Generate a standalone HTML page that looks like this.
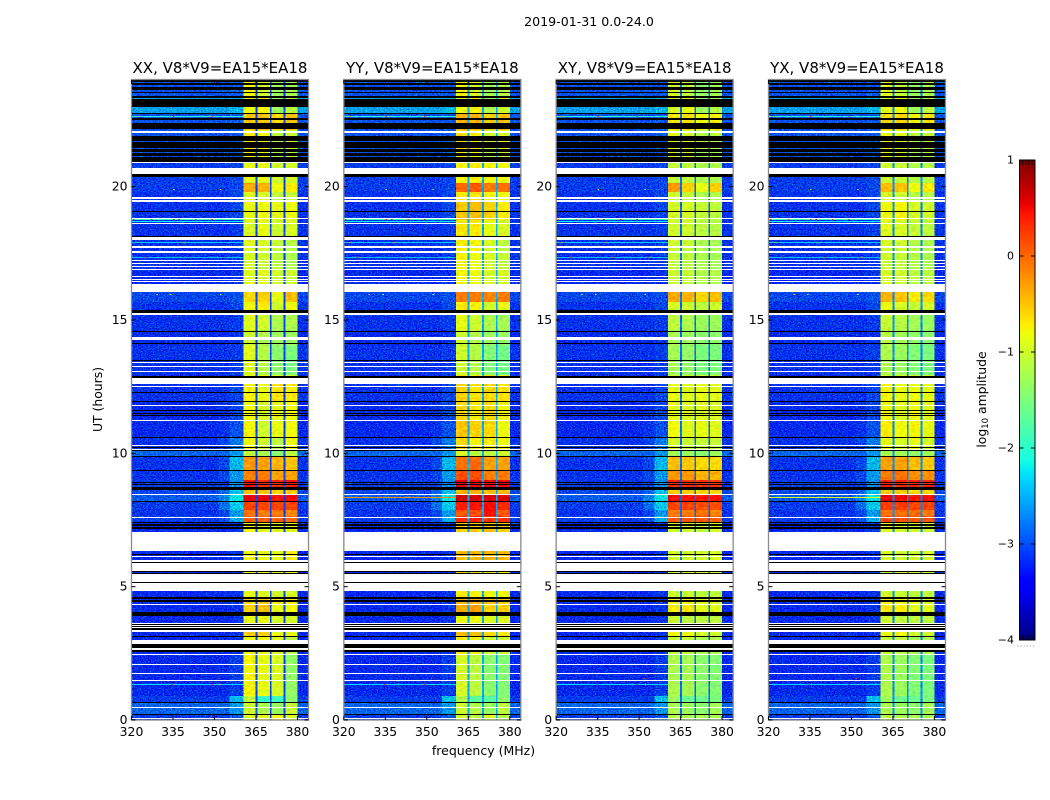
<!DOCTYPE html>
<html lang="en">
<head>
<meta charset="utf-8">
<title>2019-01-31 0.0-24.0 dynamic spectra</title>
<style>
  html, body { margin: 0; padding: 0; background: #fff; }
  body { width: 1050px; height: 800px; overflow: hidden; }
  svg { display: block; }
  text { font-family: "DejaVu Sans", "Liberation Sans", sans-serif; fill: #000; }
  .crisp { shape-rendering: crispEdges; }
</style>
</head>
<body>
<svg id="figure" xmlns="http://www.w3.org/2000/svg" width="1050" height="800" viewBox="0 0 1050 800">
  <defs>
    <filter id="speckle" filterUnits="objectBoundingBox" x="0" y="0" width="1" height="1" color-interpolation-filters="sRGB">
      <feTurbulence type="fractalNoise" baseFrequency="0.62 0.85" numOctaves="2" seed="4" result="n"/>
      <feColorMatrix in="n" type="matrix" values="0 0 0 0 0.5  1 0 0 0 0  0 1 0 0 0  0 0 0 0 1" result="g"/>
      <feComposite in="SourceGraphic" in2="g" operator="arithmetic" k1="0" k2="1" k3="1.2" k4="-0.63"/>
    </filter>
    <filter id="soft-speckle" filterUnits="objectBoundingBox" x="0" y="0" width="1" height="1" color-interpolation-filters="sRGB">
      <feTurbulence type="fractalNoise" baseFrequency="0.25 0.4" numOctaves="2" seed="9" result="n"/>
      <feColorMatrix in="n" type="matrix" values="1 0 0 0 0  0 1 0 0 0  0 0 0 0 0.5  0 0 0 0 1" result="g"/>
      <feComposite in="SourceGraphic" in2="g" operator="arithmetic" k1="0" k2="1" k3="0.35" k4="-0.175"/>
    </filter>
  </defs>
  <text x="589" y="26" font-size="12.6" text-anchor="middle">2019-01-31 0.0-24.0</text>
  <text x="483.500" y="755" font-size="12.5" text-anchor="middle">frequency (MHz)</text>
  <text x="0" y="0" font-size="12.4" text-anchor="middle" transform="translate(102 399.500) rotate(-90)">UT (hours)</text>
  <text x="0" y="0" font-size="12.4" text-anchor="middle" transform="translate(986 399.500) rotate(-90)">log<tspan font-size="8.500" dy="2">10</tspan><tspan dy="-2"> amplitude</tspan></text>
  <g id="panels"></g>
  <g id="colorbar"></g>
</svg>
<script>
// ---- Chart data ----
const polarizations = ['XX', 'YY', 'XY', 'YX'];
const panelTitleSuffix = ', V8*V9=EA15*EA18';
const xTickLabels = [320, 335, 350, 365, 380];
const yTickLabels = [0, 5, 10, 15, 20];
const colorbarTicks = [1, 0, -1, -2, -3, -4];

// Observing band edges in MHz: four sub-band patches, then the gaps between them.
const patchStartMHz = [360.5, 365.5, 370.6, 375.6];
const patchEndMHz = [364.8, 370.0, 375.0, 380.0];
const shoulderStartMHz = [351.5, 355.5];

// Time sample index at which each region begins (1 sample = 2.25 min).
const regionStart = [0, 6, 18, 24, 66, 84, 90, 104, 116, 122, 129, 158, 170, 188, 198, 204, 210, 218, 226, 233, 240, 250, 263, 270, 283, 300, 318, 336, 345, 375, 390, 407, 418, 428, 450, 470, 484, 500, 520, 528, 537, 558, 570, 590, 607, 622];

// log10 amplitude of the off-band background, per region.
const backgroundLevel = [-3.05, -2.85, -3.05, -3.15, -3.15, -3.15, -3.15, -3.15, -3.15, -3.15, -3.15, -3.15, -3.15, -3.15, -3.05, -3.1, -3.05, -2.9, -3.0, -3.05, -3.1, -3.1, -2.85, -3.1, -3.15, -3.15, -3.1, -3.15, -3.1, -3.15, -3.1, -3.1, -3.0, -3.15, -3.1, -3.1, -3.1, -3.1, -3.1, -3.05, -3.05, -2.95, -2.95, -2.95, -2.55, -2.95];
// log10 amplitude just below the band edge (outer, inner shoulder), per region.
const shoulderOuter = [-3.05, -2.85, -3.05, -3.15, -3.15, -3.15, -3.15, -3.15, -3.15, -3.15, -3.15, -3.15, -3.15, -3.15, -2.95, -3.0, -2.8, -2.7, -2.85, -3.0, -3.0, -3.0, -2.85, -3.0, -3.1, -3.1, -3.1, -3.15, -3.1, -3.15, -3.1, -3.1, -3.0, -3.15, -3.1, -3.1, -3.1, -3.1, -3.1, -3.05, -3.05, -2.95, -2.95, -2.95, -2.55, -2.95];
const shoulderInner = [-2.9, -2.6, -2.4, -3.05, -3.1, -3.1, -3.1, -3.1, -3.1, -3.1, -3.1, -3.1, -3.1, -3.1, -2.5, -2.6, -2.35, -2.2, -2.4, -2.65, -2.6, -2.45, -2.6, -2.75, -2.95, -3.0, -3.0, -3.1, -3.05, -3.1, -3.05, -3.0, -2.95, -3.1, -3.05, -3.05, -3.05, -3.0, -3.0, -3.0, -3.0, -2.9, -2.9, -2.9, -2.45, -2.9];

// log10 amplitude of patches 1-4, per region, one table per polarization.
const levelsXX = [[-.9,-.85,-.8,-.9],[-1,-1.2,-1.3,-1.05],[-1.1,-1.95,-1.9,-1.4],[-.75,-.85,-.95,-1.35],[-.8,-.8,-.9,-1.1],[-.55,-.55,-.8,-.85],[-.85,-.85,-.95,-.95],[-.55,-.45,-.85,-.8],[-.6,-.55,-.7,-.7],[-.85,-.9,-1,-.95],[-.85,-.85,-.9,-.85],[-.75,-.85,-.85,-.75],[-.85,-.85,-.85,-.85],[-.8,-.9,-.9,-.85],[.05,.05,.05,0],[-.05,-.1,-.1,-.15],[.2,.2,.2,.2],[.55,.55,.45,.5],[-.5,-.5,-.55,-.55],[.45,.3,.3,.4],[-.15,-.1,-.3,-.3],[-.25,-.3,-.4,-.5],[-1.1,-1.2,-1.4,-1.1],[-.8,-1,-1.1,-.8],[-.75,-1,-.85,-.8],[-.8,-.95,-.85,-.8],[-.75,-.85,-.65,-.7],[-.9,-.9,-.9,-.9],[-.9,-1.15,-1.4,-1.5],[-1,-1.2,-1.3,-1.3],[-.9,-1,-1.2,-1.2],[-.8,-.7,-1,-.8],[-.6,-.55,-.85,-.45],[-.9,-.9,-1,-1],[-.95,-1,-1.1,-1.2],[-.9,-.95,-1.05,-1.15],[-.95,-.85,-1,-.95],[-.85,-.8,-.85,-.8],[-.9,-.95,-1.1,-1.05],[-.35,-.4,-.8,-.7],[-.85,-.85,-1,-.95],[-.8,-.9,-1.2,-1.1],[-.7,-.8,-1.1,-1],[-.5,-.5,-.6,-.5],[-.85,-.75,-1.3,-1.1],[-.8,-1,-1.3,-1.2]];
const levelsYY = [[-1,-1.1,-.9,-1.1],[-1,-1.15,-1.3,-1.1],[-1.2,-1.7,-1.7,-1.4],[-.95,-1.1,-1.4,-1.45],[-.7,-.8,-1,-1],[-.45,-.45,-.6,-.7],[-.8,-.8,-.9,-.9],[-.35,-.3,-.55,-.55],[-.4,-.4,-.45,-.5],[-.7,-.75,-.8,-.8],[-.6,-.6,-.65,-.7],[-.45,-.4,-.4,-.45],[-.6,-.6,-.6,-.6],[-.55,-.55,-.5,-.55],[.35,.4,.3,.3],[.1,.15,.45,.1],[.4,.45,.5,.35],[.65,.65,.6,.6],[-.4,-.4,-.45,-.45],[.55,.5,.5,.5],[.15,.15,-.1,-.1],[-.05,0,-.3,-.3],[-.95,-1.1,-1.1,-1],[-.6,-.75,-.7,-.8],[-.5,-.55,-.6,-.8],[-.6,-.7,-.6,-.8],[-.55,-.65,-.6,-.65],[-.7,-.7,-.7,-.7],[-1,-1.15,-1.45,-1.55],[-1,-1.15,-1.3,-1.35],[-.85,-1,-1.2,-1.25],[-.7,-.75,-1,-.85],[-.1,-.1,-.15,-.1],[-.75,-.8,-.95,-.95],[-.75,-.8,-.95,-1.05],[-.7,-.75,-.95,-1.1],[-.65,-.7,-.85,-.95],[-.5,-.45,-.55,-.7],[-.7,-.65,-.75,-.8],[0,.1,-.1,-.05],[-.75,-.7,-.75,-.8],[-.7,-.8,-1.1,-1.05],[-.6,-.7,-1,-.95],[-.4,-.4,-.55,-.45],[-.8,-.7,-1.2,-1],[-.75,-.95,-1.25,-1.15]];
const levelsXY = [[-1.15,-1.2,-1.2,-1.2],[-1.2,-1.3,-1.4,-1.25],[-1.3,-1.6,-1.6,-1.5],[-1.2,-1.25,-1.4,-1.45],[-1.05,-1.05,-1.2,-1.2],[-.8,-.8,-1,-1],[-1,-1.1,-1.1,-1.1],[-.7,-.65,-.9,-.9],[-.75,-.75,-.9,-.9],[-1,-1.05,-1.1,-1.1],[-1,-1,-1,-1],[-.95,-1,-1,-.95],[-1,-1,-1,-1],[-.95,-1,-1.05,-1],[.1,.1,.1,.05],[-.1,-.1,-.05,-.15],[.2,.2,.15,.15],[.5,.45,.45,.45],[-.55,-.55,-.6,-.6],[.35,.3,.3,.3],[-.25,-.25,-.4,-.4],[-.45,-.5,-.6,-.6],[-1.25,-1.3,-1.4,-1.3],[-.95,-1.05,-1.05,-1.05],[-.8,-.9,-.85,-.9],[-.85,-.95,-.9,-.95],[-.85,-.9,-.85,-.9],[-1,-1,-1,-1],[-1.25,-1.35,-1.5,-1.5],[-1.2,-1.3,-1.4,-1.4],[-1.1,-1.2,-1.3,-1.3],[-.95,-1,-1.1,-1],[-.35,-.4,-.6,-.45],[-1,-1.05,-1.15,-1.15],[-1.05,-1.1,-1.2,-1.25],[-1,-1.05,-1.2,-1.25],[-1,-1,-1.1,-1.15],[-.95,-.95,-1.05,-1.1],[-1,-1.05,-1.2,-1.2],[-.25,-.55,-.85,-.55],[-1.05,-1.1,-1.2,-1.2],[-.95,-1,-1.25,-1.2],[-.85,-.95,-1.15,-1.1],[-.65,-.65,-.8,-.7],[-.95,-.85,-1.3,-1.15],[-.95,-1.1,-1.35,-1.25]];
const levelsYX = [[-1.15,-1.2,-1.2,-1.2],[-1.2,-1.3,-1.4,-1.25],[-1.3,-1.6,-1.6,-1.5],[-1.2,-1.3,-1.45,-1.5],[-1.05,-1.1,-1.2,-1.2],[-.8,-.8,-1,-1],[-1,-1.1,-1.1,-1.1],[-.7,-.7,-.9,-.9],[-.75,-.8,-.9,-.9],[-1,-1.05,-1.1,-1.1],[-1,-1,-1,-1],[-.95,-1,-1,-.95],[-1,-1,-1,-1],[-.9,-.95,-1,-1],[.15,.15,.1,.1],[-.05,-.05,0,-.1],[.25,.25,.2,.2],[.55,.5,.45,.5],[-.55,-.55,-.6,-.6],[.4,.35,.35,.35],[-.1,-.05,-.2,-.2],[-.3,-.3,-.45,-.5],[-1.2,-1.25,-1.35,-1.25],[-.85,-.95,-.85,-.95],[-.7,-.8,-.75,-.85],[-.8,-.9,-.8,-.9],[-.75,-.85,-.8,-.85],[-.95,-.95,-.95,-.95],[-1.2,-1.3,-1.45,-1.5],[-1.15,-1.25,-1.35,-1.4],[-1.05,-1.15,-1.25,-1.3],[-.85,-.95,-1.05,-.95],[-.4,-.5,-.7,-.6],[-.95,-1,-1.1,-1.1],[-1,-1.05,-1.15,-1.2],[-.95,-1,-1.15,-1.2],[-.9,-.95,-1.05,-1.1],[-.8,-.75,-.95,-1],[-.95,-1,-1.15,-1.15],[-.45,-.5,-.8,-.7],[-1,-1.05,-1.15,-1.15],[-.9,-.95,-1.2,-1.15],[-.8,-.9,-1.1,-1.05],[-.6,-.6,-.75,-.65],[-.9,-.8,-1.25,-1.1],[-.9,-1.05,-1.3,-1.2]];
const polarizationLevels = [levelsXX, levelsYY, levelsXY, levelsYX];
// Level in the narrow gaps between patches, by polarization.
const gapLevel = [-3.05, -2.55, -2.85, -2.7];

// Flagged (no data, white) sample ranges.
const flaggedStart = [1, 12, 39, 46, 55, 65, 70.5, 76, 88.5, 92, 94.3, 96.5, 115, 128.7, 138, 149, 158.3, 162.7, 169, 202, 225.3, 270.7, 273.7, 299.5, 314.2, 333.5, 336, 348, 353, 357.2, 380, 405.3, 428.3, 438.5, 440.5, 443, 450.5, 453.5, 456.3, 459, 467.3, 472.3, 480, 496.5, 501, 518, 521, 546, 557, 587.3];
const flaggedEnd = [2.5, 13.5, 40.5, 47, 56, 66, 72.5, 80.5, 90, 93.3, 95.6, 97.3, 116, 136.7, 146, 157.3, 160, 163.7, 188.3, 203, 226.5, 271.5, 275, 300.5, 315.2, 334.5, 341.7, 349, 354, 358.2, 382.7, 406.7, 436, 439.2, 441.3, 443.7, 451.3, 454.3, 457, 459.7, 468.7, 474.3, 483.3, 497.5, 501.8, 520, 523, 551.7, 558, 589];

// Dropped (zero amplitude, black) sample ranges.
const blackStart = [5.5, 17.2, 68, 72.5, 82.7, 90, 93.5, 95.8, 104, 117.7, 121.5, 136.7, 146, 148, 157.3, 165, 191, 194.3, 197.5, 218, 230, 235, 236.7, 249.5, 262.7, 269.3, 272.7, 282.2, 304.5, 306.8, 309, 318.3, 327.3, 342.3, 359.7, 376.3, 388.3, 406.7, 483.5, 508, 543.3, 558.3, 564, 568, 572.2, 579.5, 591, 600, 606.7, 612.7, 622.2, 626.7, 630, 635, 638.3];
const blackEnd = [6.5, 18, 70.5, 76, 84, 91.7, 94, 96.3, 108, 120, 123, 138, 147.5, 149, 158.3, 166, 193.3, 195.7, 198, 219, 233.3, 236, 237.7, 250.5, 264, 270.5, 273.5, 283, 305.3, 307.5, 309.7, 319, 328, 344.3, 360.4, 377, 389, 410, 484.3, 508.6, 546, 562.7, 567, 571, 578.5, 584, 597.3, 602, 607.3, 621, 624, 628.5, 633.3, 637, 640];

// Narrow-band interference rows: sample, log10 amplitude between 320 and 360 MHz.
const rfiRowSample = [35.5, 472, 477, 500, 498.5, 572.5, 603, 462, 225];
const rfiRowLevel = [-2.3, -2.05, -2.4, -1.9, -2.2, -1.95, -2.0, -2.45, -2.5];
// Streaks present in a single polarization: panel index, sample, log10 amplitude.
const streakPanel = [1, 3];
const streakSample = [222, 222];
const streakLevel = [-.2, -.9];
// Isolated hot channels: sample, frequency in MHz, log10 amplitude.
const speckSample = [35.5, 35.5, 35.5, 41, 472, 472, 472, 472, 472, 472, 477, 477, 500, 500, 500, 500, 500, 500, 572.5, 572.5, 572.5, 603, 603, 603, 425, 425, 425, 530, 530, 462, 462, 462];
const speckMHz = [334.5, 349, 352, 351.5, 324, 331, 334, 336, 345, 352, 322, 338, 320.5, 327, 335, 337, 343, 349, 326, 334, 347, 322, 335, 349, 329, 334, 352, 335, 352, 325, 340, 353];
const speckLevel = [.3, .3, -.4, .2, .1, .3, .6, .4, .3, .2, -.3, -.2, .2, .3, .4, .5, .2, .4, .2, .35, .3, -.2, .3, .2, -.6, -.8, -.9, -.5, -.4, .2, .1, .2];

// ---- Axis limits ----
const freqMin = 320, freqMax = 384, hourMin = 0, hourMax = 24, levelMin = -4, levelMax = 1;
const samplesPerHour = 640 / 24;
const plotTop = 80, plotBottom = 720, plotWidth = 177;
const cbarLeft = 1019.5, cbarRight = 1035, cbarTop = 160, cbarBottom = 640;

// ---- Helpers ----
const SVGNS = 'http://www.w3.org/2000/svg';
function panelLeft(i) { return 131.5 + i * 212.33; }
function xScale(i, mhz) { return panelLeft(i) + (mhz - freqMin) / (freqMax - freqMin) * plotWidth; }
function yScale(hour) { return plotBottom - (hour - hourMin) / (hourMax - hourMin) * (plotBottom - plotTop); }
function sampleY(s) { return yScale(s / samplesPerHour); }
function cbarY(level) { return cbarBottom - (level - levelMin) / (levelMax - levelMin) * (cbarBottom - cbarTop); }
function ramp(x, pts) {
  for (let k = 1; k < pts.length; k++) {
    if (x <= pts[k][0]) {
      return pts[k - 1][1] + (x - pts[k - 1][0]) / (pts[k][0] - pts[k - 1][0]) * (pts[k][1] - pts[k - 1][1]);
    }
  }
  return pts[pts.length - 1][1];
}
function jet(level) {
  const t = Math.max(0, Math.min(1, (level - levelMin) / (levelMax - levelMin)));
  const r = ramp(t, [[0, 0], [.35, 0], [.66, 1], [.89, 1], [1, .5]]);
  const g = ramp(t, [[0, 0], [.125, 0], [.375, 1], [.64, 1], [.91, 0], [1, 0]]);
  const b = ramp(t, [[0, .5], [.11, 1], [.34, 1], [.65, 0], [1, 0]]);
  return 'rgb(' + Math.round(r * 255) + ',' + Math.round(g * 255) + ',' + Math.round(b * 255) + ')';
}
function make(tag, props, parent) {
  const el = document.createElementNS(SVGNS, tag);
  for (const k in props) { el.setAttribute(k, props[k]); }
  parent.appendChild(el);
  return el;
}
function cell(parent, x0, x1, y0, y1, fill) {
  const top = Math.round(Math.min(y0, y1));
  const height = Math.max(1, Math.round(Math.max(y0, y1)) - top);
  const el = make('rect', { x: x0, y: top, width: Math.max(0, x1 - x0), height: height, fill: fill }, parent);
  
  
  return el;
}
function tickLine(parent, x1, y1, x2, y2) {
  const el = make('line', { x1: x1, y1: y1, x2: x2, y2: y2, stroke: '#000', 'stroke-width': 1 }, parent);
  
  
  return el;
}

// ---- Panels ----
const panelsRoot = document.getElementById('panels');
polarizations.forEach(function (pol, i) {
  const panel = make('g', {}, panelsRoot);
  
  

  const left = xScale(i, freqMin), right = xScale(i, freqMax);

  const title = make('text', { x: (left + right) / 2, y: 73, 'font-size': 15, 'text-anchor': 'middle' }, panel);
  
  
  title.textContent = pol + panelTitleSuffix;

  const bgGroup = make('g', { filter: 'url(#speckle)', class: 'crisp' }, panel);
  const bandGroup = make('g', { filter: 'url(#soft-speckle)', class: 'crisp' }, panel);
  const maskGroup = make('g', { class: 'crisp' }, panel);

  regionStart.forEach(function (start, r) {
    const end = r + 1 < regionStart.length ? regionStart[r + 1] : 640;
    const y0 = sampleY(start), y1 = sampleY(end);
    // Off-band background and shoulder below the band edge.
    cell(bgGroup, left, xScale(i, shoulderStartMHz[0]), y0, y1, jet(backgroundLevel[r]));
    cell(bgGroup, xScale(i, shoulderStartMHz[0]), xScale(i, shoulderStartMHz[1]), y0, y1, jet(shoulderOuter[r]));
    cell(bgGroup, xScale(i, shoulderStartMHz[1]), xScale(i, patchStartMHz[0]), y0, y1, jet(shoulderInner[r]));
    cell(bgGroup, xScale(i, patchEndMHz[3]), right, y0, y1, jet(backgroundLevel[r]));
    // Sub-band patches and the gaps between them.
    patchStartMHz.forEach(function (mhz, p) {
      cell(bandGroup, xScale(i, mhz), xScale(i, patchEndMHz[p]), y0, y1, jet(polarizationLevels[i][r][p]));
      if (p < 3) {
        cell(bandGroup, xScale(i, patchEndMHz[p]), xScale(i, patchStartMHz[p + 1]), y0, y1, jet(gapLevel[i]));
      }
    });
  });

  rfiRowSample.forEach(function (s, r) {
    cell(maskGroup, left, xScale(i, patchStartMHz[0]), sampleY(s), sampleY(s + 1), jet(rfiRowLevel[r]));
  });
  streakSample.forEach(function (s, k) {
    if (streakPanel[k] === i) {
      cell(maskGroup, left, xScale(i, patchStartMHz[0]), sampleY(s), sampleY(s + 1), jet(streakLevel[k]));
    }
  });
  speckSample.forEach(function (s, k) {
    cell(maskGroup, xScale(i, speckMHz[k]), xScale(i, speckMHz[k] + .55), sampleY(s), sampleY(s + 1), jet(speckLevel[k]));
  });
  flaggedStart.forEach(function (s, k) {
    cell(maskGroup, left, right, sampleY(s), sampleY(flaggedEnd[k]), '#fff');
  });
  blackStart.forEach(function (s, k) {
    cell(maskGroup, left, right, sampleY(s), sampleY(blackEnd[k]), '#000');
  });

  // Frame
  const frame = make('rect', { x: left, y: plotTop - .5, width: right - left, height: plotBottom - plotTop + .5, fill: 'none', stroke: '#8a8a8a', 'stroke-width': 1.3 }, panel);
  
  

  // X ticks and labels
  xTickLabels.forEach(function (v) {
    const x = xScale(i, v);
    tickLine(panel, x, plotBottom, x, plotBottom - 4);
    tickLine(panel, x, plotTop, x, plotTop + 4);
    const t = make('text', { x: x, y: 736, 'font-size': 12.4, 'text-anchor': 'middle' }, panel);
    
    
    t.textContent = v;
  });
  // Y ticks and labels
  yTickLabels.forEach(function (v) {
    const y = yScale(v);
    tickLine(panel, left, y, left + 4, y);
    tickLine(panel, right, y, right - 4, y);
    const t = make('text', { x: left - 4, y: y + 4, 'font-size': 12.4, 'text-anchor': 'end' }, panel);
    
    
    t.textContent = v;
  });
});

// ---- Colorbar ----
const cbarRoot = document.getElementById('colorbar');
const cbarCells = make('g', { class: 'crisp' }, cbarRoot);
for (let k = 0; k < 240; k++) {
  const lo = levelMin + k / 240 * (levelMax - levelMin);
  const hi = levelMin + (k + 1) / 240 * (levelMax - levelMin);
  const swatch = make('rect', { x: cbarLeft, y: cbarY(hi), width: cbarRight - cbarLeft, height: cbarY(lo) - cbarY(hi) + .5, fill: jet((lo + hi) / 2) }, cbarCells);
  
  
}
const cbarFrame = make('rect', { x: cbarLeft, y: cbarTop, width: cbarRight - cbarLeft, height: cbarBottom - cbarTop, fill: 'none', stroke: '#000', 'stroke-width': 1 }, cbarRoot);


colorbarTicks.forEach(function (v) {
  const y = cbarY(v);
  tickLine(cbarRoot, cbarLeft, y, cbarLeft + 4, y);
  tickLine(cbarRoot, cbarRight, y, cbarRight - 4, y);
  const label = make('text', { x: cbarLeft - 5.5, y: y + 3.5, 'font-size': 11, 'text-anchor': 'end' }, cbarRoot);
  
  
  label.textContent = v < 0 ? '\u2212' + Math.abs(v) : String(v);
});
for (let k = 1; k <= 4; k++) {
  const x = cbarLeft + k * 3.1;
  tickLine(cbarRoot, x, cbarTop, x, cbarTop + 5);
  tickLine(cbarRoot, x, cbarBottom, x, cbarBottom - 5);
}
for (let k = 0; k < 6; k++) {
  const dot = make('rect', { x: 1017.5 + k * 3.1, y: 645.5, width: 1, height: 1, fill: '#999' }, cbarRoot);
  
  
}
</script>
</body>
</html>
